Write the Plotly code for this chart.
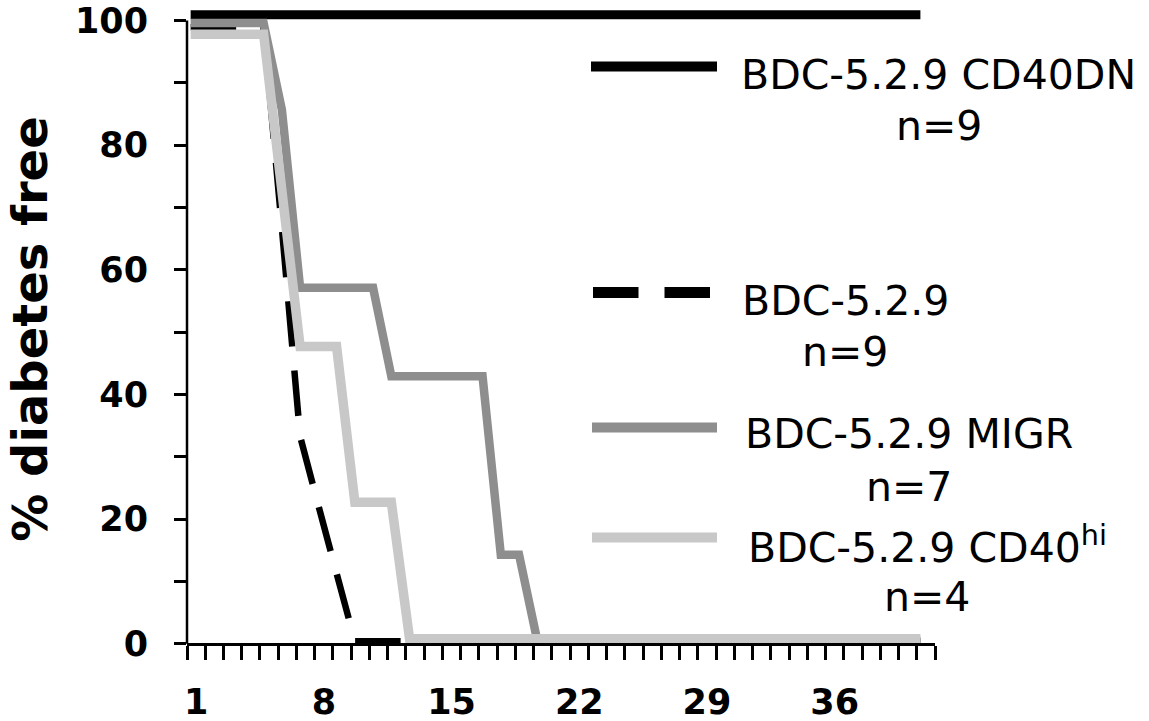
import plotly.graph_objects as go

# ---------------- data ----------------
days = list(range(1, 42))  # day 1 .. 41

# % diabetes free per day (slightly offset in the original so overlapping lines stay visible)
cd40dn = [100.9] * 41
bdc = [98.9] * 5 + [66.7, 33.3, 22.2, 11.1] + [0.4] * 32
migr = [99.6] * 5 + [85.7] + [57.1] * 5 + [42.9] * 6 + [14.3] * 2 + [0.5] * 22
cd40hi = [97.8] * 5 + [72.7] + [47.7] * 3 + [22.7] * 3 + [0.8] * 29

series_names = ["BDC-5.2.9 CD40DN", "BDC-5.2.9", "BDC-5.2.9 MIGR", "BDC-5.2.9 CD40<sup>hi</sup>"]
series_n = ["n=9", "n=9", "n=7", "n=4"]
series_colors = ["#000000", "#000000", "#8e8e8e", "#c8c8c8"]

x_tick_labels = [1, 8, 15, 22, 29, 36]
y_tick_values = [0, 20, 40, 60, 80, 100]

# ---------------- layout geometry ----------------
W, H = 1149, 721
ML, MR, MT, MB = 187, 214, 8, 71
XR = [0.8, 41.8]
YR = [-1, 102]
PW = W - ML - MR
PH = H - MT - MB


def px(xpix):
    return (xpix - ML) / PW


def py(ypix):
    return (H - MB - ypix) / PH


fig = go.Figure()

fig.add_trace(go.Scatter(x=days, y=cd40dn, mode="lines", name=series_names[0],
                         line=dict(color=series_colors[0], width=9), showlegend=False))
fig.add_trace(go.Scatter(x=days, y=bdc, mode="lines", name=series_names[1],
                         line=dict(color=series_colors[1], width=6.5, dash="45.5px,24.1px"),
                         showlegend=False))
fig.add_trace(go.Scatter(x=days, y=migr, mode="lines", name=series_names[2],
                         line=dict(color=series_colors[2], width=8.5), showlegend=False))
fig.add_trace(go.Scatter(x=days, y=cd40hi, mode="lines", name=series_names[3],
                         line=dict(color=series_colors[3], width=9.5), showlegend=False))

tick_font = dict(family="DejaVu Sans", size=35, color="black", weight="bold")

fig.update_layout(
    width=W, height=H,
    margin=dict(l=ML, r=MR, t=MT, b=MB, autoexpand=False),
    paper_bgcolor="white", plot_bgcolor="white",
    xaxis=dict(
        range=XR, anchor="free", position=(0 - YR[0]) / (YR[1] - YR[0]),
        automargin=False,
        showgrid=False, zeroline=False,
        showline=True, linecolor="black", linewidth=3,
        tickmode="array", tickvals=[v + 0.3 for v in x_tick_labels],
        ticktext=[str(v) for v in x_tick_labels],
        ticks="", tickfont=tick_font, ticklabelstandoff=26,
        minor=dict(tickmode="linear", tick0=0.8, dtick=1, ticks="outside",
                   ticklen=14, tickwidth=2.5, tickcolor="black", showgrid=False),
    ),
    yaxis=dict(
        range=YR, automargin=False,
        showgrid=False, zeroline=False, showline=False,
        tickmode="array", tickvals=y_tick_values, ticktext=[str(v) for v in y_tick_values],
        ticks="outside", ticklen=12, tickwidth=2.5, tickcolor="black",
        tickfont=tick_font, ticklabelstandoff=19,
        minor=dict(tickmode="linear", tick0=0, dtick=10, ticks="outside",
                   ticklen=12, tickwidth=2.5, tickcolor="black", showgrid=False),
        title=dict(text="% diabetes free",
                   font=dict(family="DejaVu Sans", size=48, color="black", weight="bold"),
                   standoff=12),
    ),
)

# y axis line from 0 to 100 only
fig.add_shape(type="line", xref="paper", yref="y", x0=0, x1=0, y0=0, y1=100,
              line=dict(color="black", width=2.5))

# ---------------- legend (custom, matching original placement) ----------------
legend_rows = [
    # (sample y pixel, sample x0, sample x1, dash, width, text center x, text middle y, n middle y)
    (66.6, 591, 717, "solid", 10, 938.6, 75, 126),
    (292.6, 593, 710, "45.5px,26px", 11, 845, 301, 352),
    (427.5, 592, 717, "solid", 10, 909, 434, 487),
    (537.5, 592, 717, "solid", 10, 927, 545, 597),
]
leg_font = dict(family="DejaVu Sans", size=41, color="black")
for i, (sy, sx0, sx1, dash, lw, tx, ty, ny) in enumerate(legend_rows):
    fig.add_shape(type="line", xref="paper", yref="paper",
                  x0=px(sx0), x1=px(sx1), y0=py(sy), y1=py(sy),
                  line=dict(color=series_colors[i], width=lw, dash=dash))
    fig.add_annotation(xref="paper", yref="paper", x=px(tx), y=py(ty),
                       text=series_names[i], showarrow=False,
                       xanchor="center", yanchor="middle", font=leg_font)
    fig.add_annotation(xref="paper", yref="paper", x=px(tx), y=py(ny),
                       text=series_n[i], showarrow=False,
                       xanchor="center", yanchor="middle", font=leg_font)

fig.write_html("out.html", config={"displayModeBar": False},
               post_script="document.body.style.margin='0';document.body.style.overflow='hidden';")
